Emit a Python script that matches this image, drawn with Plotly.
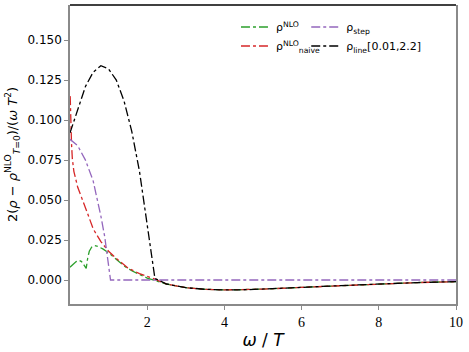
"""Odtworzenie wykresu 2(rho - rho_T=0)/(omega T^2) w Plotly."""

import plotly.graph_objects as go

# wspólny ogon (omega > 2.2) dla rho_NLO, rho_naive, rho_line
tail_w = [2.5, 3.0, 3.5, 4.0, 4.5, 5.0, 6.0, 7.0, 8.0, 9.0, 10.0]
tail_v = [-0.0025, -0.0048, -0.0058, -0.0062, -0.0061, -0.0057, -0.0046, -0.0035, -0.0024, -0.0016, -0.0010]

nlo_w = [0.0, 0.08, 0.16, 0.24, 0.30, 0.36, 0.42, 0.46, 0.50, 0.56, 0.64, 0.72, 0.85,
         1.0, 1.2, 1.4, 1.6, 1.8, 2.0, 2.2]
nlo_v = [0.0080, 0.0095, 0.0115, 0.0122, 0.0115, 0.0095, 0.0073, 0.0140, 0.0180, 0.0205,
         0.0215, 0.0210, 0.0195, 0.0170, 0.0128, 0.0088, 0.0058, 0.0033, 0.0012, -0.0003]

naive_w = [0.005, 0.02, 0.04, 0.06, 0.10, 0.20, 0.30, 0.45, 0.60, 0.80, 1.0, 1.2, 1.5, 1.8, 2.2]
naive_v = [0.115, 0.098, 0.085, 0.076, 0.068, 0.058, 0.052, 0.042, 0.032, 0.024, 0.018,
           0.0135, 0.0075, 0.0040, 0.0005]

step_w = [0.0, 0.2, 0.4, 0.6, 0.8, 0.9, 1.05, 10.0]
step_v = [0.088, 0.084, 0.075, 0.062, 0.040, 0.027, 0.0, 0.0]

line_w = [0.0, 0.2, 0.4, 0.6, 0.8, 1.0, 1.2, 1.4, 1.6, 1.8, 2.0, 2.2]
line_v = [0.092, 0.107, 0.121, 0.130, 0.134, 0.132, 0.125, 0.112, 0.093, 0.068, 0.036, 0.001]

y_ticks = [0.0, 0.025, 0.05, 0.075, 0.1, 0.125, 0.15]
x_ticks = [2, 4, 6, 8, 10]

series = [
    ("ρ<sup>NLO</sup>", nlo_w + tail_w, nlo_v + tail_v, "#2ca02c", "legend"),
    ("ρ<sup>NLO</sup><sub>naive</sub>", naive_w + tail_w, naive_v + tail_v, "#d62728", "legend"),
    ("ρ<sub>step</sub>", step_w, step_v, "#9467bd", "legend2"),
    ("ρ<sub>line</sub>[0.01,2.2]", line_w + tail_w, line_v + tail_v, "black", "legend2"),
]

fig = go.Figure()
for name, xs, ys, color, leg in series:
    fig.add_trace(go.Scatter(
        x=xs, y=ys, mode="lines", name=name, legend=leg,
        line=dict(color=color, width=1.3, dash="dashdot"),
    ))

axis_gray = "#8a8a8a"
fig.update_layout(
    width=469, height=352,
    margin=dict(l=70, r=13, t=5, b=48),
    plot_bgcolor="white", paper_bgcolor="white",
    font=dict(family="DejaVu Sans", size=12, color="black"),
    xaxis=dict(
        range=[0, 10], tickvals=x_ticks, ticks="outside", ticklen=4,
        tickcolor=axis_gray, showgrid=False, zeroline=False,
        showline=True, linecolor=axis_gray, linewidth=1.5,
        tickfont=dict(family="Liberation Serif", size=14),
        title=dict(text="<i>ω</i> / <i>T</i>", font=dict(size=17), standoff=6),
    ),
    yaxis=dict(
        range=[-0.015, 0.172], tickvals=y_ticks, tickformat=".3f",
        ticks="outside", ticklen=4, tickcolor=axis_gray,
        showgrid=False, zeroline=False,
        showline=True, mirror=True, linecolor=axis_gray, linewidth=1.5,
        title=dict(text="2(<i>ρ</i> − <i>ρ</i><sup>NLO</sup><sub><i>T</i>=0</sub>)/(<i>ω T</i><sup>2</sup>)",
                   font=dict(size=13), standoff=7),
    ),
    legend=dict(x=0.43, y=0.975, xanchor="left", yanchor="top",
                bgcolor="rgba(0,0,0,0)", font=dict(size=11), tracegroupgap=0),
    legend2=dict(x=0.612, y=0.975, xanchor="left", yanchor="top",
                 bgcolor="rgba(0,0,0,0)", font=dict(size=11), tracegroupgap=0),
)
# górna krawędź ramki jest czarna
fig.add_shape(type="line", xref="paper", yref="paper", x0=0, x1=1, y0=1, y1=1,
              line=dict(color="black", width=1.5))

# bez domyślnego marginesu strony, żeby wykres zaczynał się w rogu okna
fig.write_html("out.html", config={"displayModeBar": False},
               post_script="document.body.style.margin='0';")
